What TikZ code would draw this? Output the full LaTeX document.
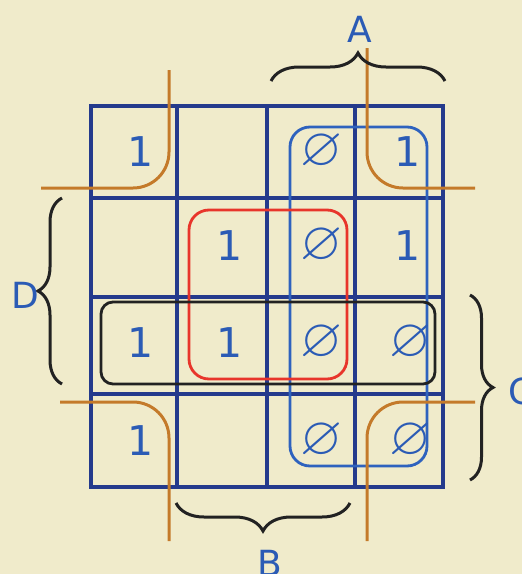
\documentclass[tikz,border=0pt]{standalone}
\usepackage{amssymb}
\usepackage{fontspec}
\setmainfont{DejaVu Sans}
\usetikzlibrary{decorations.pathreplacing}
\definecolor{bg}{HTML}{F0EBCB}
\definecolor{gridblue}{HTML}{243A8C}
\definecolor{txtblue}{HTML}{2B5BB5}
\definecolor{loopblue}{HTML}{2E62BE}
\definecolor{loopred}{HTML}{E8352B}
\definecolor{orangeln}{HTML}{C47A2A}
\definecolor{bracek}{HTML}{222222}
\tikzset{
  gridln/.style={draw=gridblue, line width=3.2pt},
  cellval/.style={text=txtblue, inner sep=0pt, font=\fontsize{41}{41}\selectfont},
  dcval/.style={text=txtblue, inner sep=0pt, font=\fontsize{54}{54}\selectfont},
  varlabel/.style={text=txtblue, inner sep=0pt, font=\fontsize{36}{36}\selectfont},
  loopbox/.style={line width=2.8pt, rounded corners=20pt},
  wrapln/.style={draw=orangeln, line width=3pt, rounded corners=36pt},
  bracestyle/.style={draw=bracek, line width=3pt, decorate},
}
\newcommand{\dc}{$\varnothing$}
\begin{document}
\begin{tikzpicture}[x=1pt,y=-1pt]
\fill[bg] (0,0) rectangle (522,574);
\useasboundingbox (0,0) rectangle (522,574);
% grid
\draw[gridln] (91,106) rectangle (443,487);
\foreach \xx in {177,267,355} \draw[gridln] (\xx,106) -- (\xx,487);
\foreach \yy in {198,297,394} \draw[gridln] (91,\yy) -- (443,\yy);
% loops
\draw[loopbox, draw=loopblue] (290,127) rectangle (427,466);
\draw[loopbox, draw=loopred] (189,210) rectangle (347,379);
\draw[loopbox, draw=bracek, rounded corners=12pt] (101,302) rectangle (435,384);
% wrap-around corners
\coordinate (tlA) at (41,188);  \coordinate (tlB) at (169,70);
\coordinate (trA) at (475,188); \coordinate (trB) at (367,48);
\coordinate (blA) at (60,402);  \coordinate (blB) at (169,541);
\coordinate (brA) at (475,402); \coordinate (brB) at (367,541);
\draw[wrapln] (tlA) -| (tlB);
\draw[wrapln] (trA) -| (trB);
\draw[wrapln] (blA) -| (blB);
\draw[wrapln] (brA) -| (brB);
% cell values
\node[cellval] (c11) at (141,152) {1};
\node[dcval]   (c13) at (321,152) {\dc};
\node[cellval] (c14) at (408,152) {1};
\node[cellval] (c22) at (230,246) {1};
\node[dcval]   (c23) at (321,246) {\dc};
\node[cellval] (c24) at (408,246) {1};
\node[cellval] (c31) at (141,343) {1};
\node[cellval] (c32) at (230,343) {1};
\node[dcval]   (c33) at (321,343) {\dc};
\node[dcval]   (c34) at (410,343) {\dc};
\node[cellval] (c41) at (141,441) {1};
\node[dcval]   (c43) at (321,441) {\dc};
\node[dcval]   (c44) at (410,441) {\dc};
% braces
\coordinate (bAs) at (271,81);  \coordinate (bAe) at (445,81);
\coordinate (bBs) at (350,503); \coordinate (bBe) at (176,503);
\coordinate (bDs) at (62,384);  \coordinate (bDe) at (62,198);
\coordinate (bCs) at (470,295); \coordinate (bCe) at (470,480);
\draw[bracestyle, decoration={brace, amplitude=28pt}] (bAs) -- (bAe);
\draw[bracestyle, decoration={brace, amplitude=28pt}] (bBs) -- (bBe);
\draw[bracestyle, decoration={brace, amplitude=24pt}] (bDs) -- (bDe);
\draw[bracestyle, decoration={brace, amplitude=23pt}] (bCs) -- (bCe);
% labels
\node[varlabel] (lA) at (360,29) {A};
\node[varlabel] (lB) at (270,563) {B};
\node[varlabel] (lC) at (521,391) {C};
\node[varlabel] (lD) at (25,295) {D};
\end{tikzpicture}
\end{document}
